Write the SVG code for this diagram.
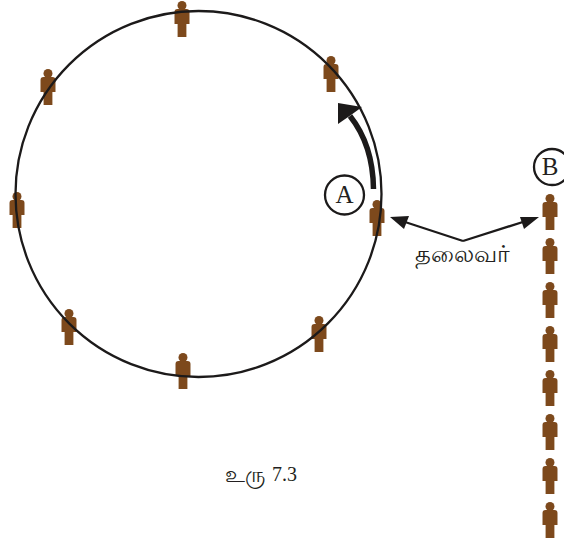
<svg xmlns="http://www.w3.org/2000/svg" width="564" height="540" viewBox="0 0 564 540">
<style>
.p{fill:#7d4a1e}
.l{fill:none;stroke:#1c1a1a;stroke-width:2.300}
.t{font-family:"Liberation Serif","Noto Sans",serif;fill:#231f20}
.h{fill:#1c1a1a}
</style>
<defs>
<filter id="soft" x="-30%" y="-30%" width="160%" height="160%"><feGaussianBlur stdDeviation="0.700"/></filter>
<g id="person" class="p" filter="url(#soft)">
<circle cx="0" cy="-13.500" r="4.500"/>
<path d="M-3,-12H3V-10H4.500Q7.500,-10 7.500,-7V5H4.400V18H-4.400V5H-7.500V-7Q-7.500,-10 -4.500,-10H-3Z"/>
</g>
</defs>
<rect width="564" height="540" fill="#fff"/>
<g id="nodes">
<g id="p1"><use href="#person" x="182" y="19"/></g>
<g id="p2"><use href="#person" x="48" y="87"/></g>
<g id="p3"><use href="#person" x="331" y="74"/></g>
<g id="p4"><use href="#person" x="17" y="210"/></g>
<g id="p5"><use href="#person" x="377" y="218"/></g>
<g id="p6"><use href="#person" x="69" y="327"/></g>
<g id="p7"><use href="#person" x="319" y="334"/></g>
<g id="p8"><use href="#person" x="183" y="371"/></g>
<g id="q1"><use href="#person" x="550" y="212"/></g>
<g id="q2"><use href="#person" x="550" y="256"/></g>
<g id="q3"><use href="#person" x="550" y="300"/></g>
<g id="q4"><use href="#person" x="550" y="344"/></g>
<g id="q5"><use href="#person" x="550" y="388"/></g>
<g id="q6"><use href="#person" x="550" y="432"/></g>
<g id="q7"><use href="#person" x="550" y="476"/></g>
<g id="q8"><use href="#person" x="550" y="520"/></g>
<g id="ring"><circle class="l" cx="198.500" cy="194" r="183"/></g>
<g id="labelA"><circle class="l" cx="344.500" cy="195" r="19.500"/><text class="t" x="344.500" y="203" font-size="25" text-anchor="middle">A</text></g>
<g id="labelB"><circle class="l" cx="552" cy="167" r="18"/><text class="t" x="550" y="175" font-size="25" text-anchor="middle">B</text></g>
</g>
<g id="connectors">
<path d="M373.500,189Q373,145 350,116" fill="none" stroke="#1c1a1a" stroke-width="5.500"/>
<path class="h" d="M338,103L362,107L351,115L338,124Z"/>
<path d="M463,241L402,221M463,241L526,221" fill="none" stroke="#1c1a1a" stroke-width="2.300"/>
<path class="h" d="M390,217L409,216L404,229Z"/>
<path class="h" d="M539,217L520,217L524,229Z"/>
</g>
<text class="t" x="415" y="262" font-size="23" textLength="95" lengthAdjust="spacingAndGlyphs">தலைவர்</text>
<text class="t" x="225" y="482" font-size="22" textLength="40" lengthAdjust="spacingAndGlyphs">உரு</text>
<text class="t" x="272" y="481" font-size="20">7.3</text>
</svg>
